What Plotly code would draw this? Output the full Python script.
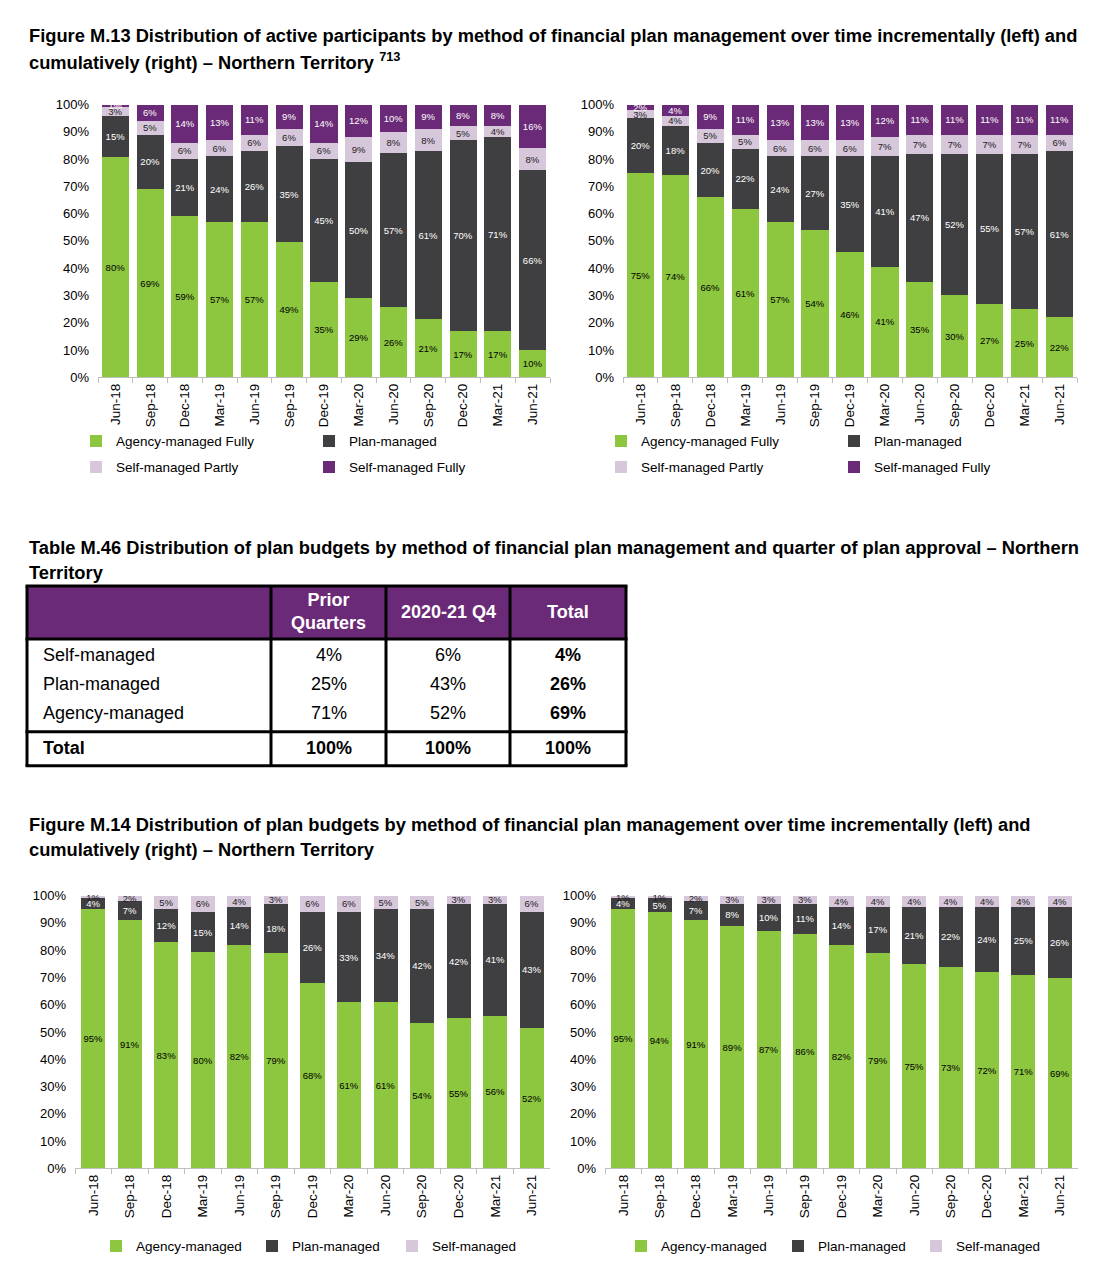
import plotly.graph_objects as go

# ---------------- data ----------------
months = ["Jun-18", "Sep-18", "Dec-18", "Mar-19", "Jun-19", "Sep-19", "Dec-19",
          "Mar-20", "Jun-20", "Sep-20", "Dec-20", "Mar-21", "Jun-21"]

# Figure M.13 left (incremental) - active participants
inc_agency_fully = [80, 69, 59, 57, 57, 49, 35, 29, 26, 21, 17, 17, 10]
inc_plan = [15, 20, 21, 24, 26, 35, 45, 50, 57, 61, 70, 71, 66]
inc_self_partly = [3, 5, 6, 6, 6, 6, 6, 9, 8, 8, 5, 4, 8]
inc_self_fully = [1, 6, 14, 13, 11, 9, 14, 12, 10, 9, 8, 8, 16]

# Figure M.13 right (cumulative)
cum_agency_fully = [75, 74, 66, 61, 57, 54, 46, 41, 35, 30, 27, 25, 22]
cum_plan = [20, 18, 20, 22, 24, 27, 35, 41, 47, 52, 55, 57, 61]
cum_self_partly = [3, 4, 5, 5, 6, 6, 6, 7, 7, 7, 7, 7, 6]
cum_self_fully = [2, 4, 9, 11, 13, 13, 13, 12, 11, 11, 11, 11, 11]

# Figure M.14 left (incremental) - plan budgets
bud_inc_agency = [95, 91, 83, 80, 82, 79, 68, 61, 61, 54, 55, 56, 52]
bud_inc_plan = [4, 7, 12, 15, 14, 18, 26, 33, 34, 42, 42, 41, 43]
bud_inc_self = [1, 2, 5, 6, 4, 3, 6, 6, 5, 5, 3, 3, 6]

# Figure M.14 right (cumulative)
bud_cum_agency = [95, 94, 91, 89, 87, 86, 82, 79, 75, 73, 72, 71, 69]
bud_cum_plan = [4, 5, 7, 8, 10, 11, 14, 17, 21, 22, 24, 25, 26]
bud_cum_self = [1, 1, 2, 3, 3, 3, 4, 4, 4, 4, 4, 4, 4]

# Table M.46
table_columns = ["Prior<br>Quarters", "2020-21 Q4", "Total"]
table_rows = ["Self-managed", "Plan-managed", "Agency-managed"]
table_prior = [4, 25, 71]
table_q4 = [6, 43, 52]
table_total = [4, 26, 69]
table_total_row = [100, 100, 100]

y_ticks = [0, 10, 20, 30, 40, 50, 60, 70, 80, 90, 100]

# ---------------- layout helpers ----------------
OX, OY = 8, 8            # page body margin
W, H = 1094 - 2 * OX, 1270 - 2 * OY
SY, CY = 0.9876, 7.4     # empirical vertical calibration
FONT = "Arial, Liberation Sans, sans-serif"
GREEN = "#8DC63F"
DARK = "#3F3F41"
LAV = "#D7C7DB"
PURPLE = "#6B2A77"
TABLE_PURPLE = "#6B2A77"


def X(p):
    return (p - OX) / W


def Y(p):
    fig_px = (p - CY) / SY - OY
    return 1 - fig_px / H


fig = go.Figure()


def add_bar(xa, ya, name, vals, color, textcolor, legend, width):
    fig.add_trace(go.Bar(
        x=months, y=vals, name=name,
        marker=dict(color=color, line=dict(width=0)),
        text=[f"{v}%" for v in vals],
        textposition="inside", insidetextanchor="middle", textangle=0,
        constraintext="none",
        textfont=dict(size=9.5, color=textcolor, family=FONT),
        xaxis=xa, yaxis=ya, legend=legend, width=width,
        hoverinfo="skip", cliponaxis=False,
    ))


BW_TOP = 0.78
BW_BOT = 0.66
add_bar("x", "y", "Agency-managed Fully", inc_agency_fully, GREEN, "#000000", "legend", BW_TOP)
add_bar("x", "y", "Plan-managed", inc_plan, DARK, "#FFFFFF", "legend2", BW_TOP)
add_bar("x", "y", "Self-managed Partly", inc_self_partly, LAV, "#222222", "legend3", BW_TOP)
add_bar("x", "y", "Self-managed Fully", inc_self_fully, PURPLE, "#FFFFFF", "legend4", BW_TOP)

add_bar("x2", "y2", "Agency-managed Fully", cum_agency_fully, GREEN, "#000000", "legend5", BW_TOP)
add_bar("x2", "y2", "Plan-managed", cum_plan, DARK, "#FFFFFF", "legend6", BW_TOP)
add_bar("x2", "y2", "Self-managed Partly", cum_self_partly, LAV, "#222222", "legend7", BW_TOP)
add_bar("x2", "y2", "Self-managed Fully", cum_self_fully, PURPLE, "#FFFFFF", "legend8", BW_TOP)

add_bar("x3", "y3", "Agency-managed", bud_inc_agency, GREEN, "#000000", "legend9", BW_BOT)
add_bar("x3", "y3", "Plan-managed", bud_inc_plan, DARK, "#FFFFFF", "legend10", BW_BOT)
add_bar("x3", "y3", "Self-managed", bud_inc_self, LAV, "#222222", "legend11", BW_BOT)

add_bar("x4", "y4", "Agency-managed", bud_cum_agency, GREEN, "#000000", "legend12", BW_BOT)
add_bar("x4", "y4", "Plan-managed", bud_cum_plan, DARK, "#FFFFFF", "legend13", BW_BOT)
add_bar("x4", "y4", "Self-managed", bud_cum_self, LAV, "#222222", "legend14", BW_BOT)


def xaxis_style(x0, x1, anchor):
    return dict(
        domain=[X(x0), X(x1)], anchor=anchor, type="category",
        showline=True, linecolor="#BFBFBF", linewidth=1,
        ticks="outside", tickson="boundaries", ticklen=5, tickcolor="#BFBFBF",
        tickangle=-90, tickfont=dict(size=13.5, color="#000000", family=FONT),
        showgrid=False, zeroline=False, fixedrange=True,
    )


def yaxis_style(ytop, ybot, anchor):
    return dict(
        domain=[Y(ybot), Y(ytop)], anchor=anchor, range=[0, 100.0001],
        tickvals=y_ticks, ticktext=[f"{v}%" for v in y_ticks],
        tickfont=dict(size=13, color="#000000", family=FONT),
        showgrid=False, zeroline=False, showline=False, ticks="",
        ticklabelstandoff=8, fixedrange=True,
    )


legend_common = dict(
    orientation="h", xanchor="left", yanchor="middle",
    font=dict(size=13.5, color="#000000", family=FONT),
    bgcolor="rgba(0,0,0,0)", borderwidth=0, itemclick=False,
    itemdoubleclick=False, traceorder="normal",
)


def legend_at(text_x, y):
    # legend text begins ~40px right of the legend box's left edge
    d = dict(legend_common)
    d.update(x=X(text_x - 40), y=Y(y))
    return d


annotations = []


def text(x, y, s, size=18, bold=False, color="#000000", xanchor="left"):
    if bold:
        s = f"<b>{s}</b>"
    annotations.append(dict(
        x=X(x), y=Y(y), xref="paper", yref="paper", text=s, showarrow=False,
        xanchor=xanchor, yanchor="middle",
        font=dict(size=size, color=color, family=FONT),
    ))


TS = 18.3
# titles
text(27, 36, "Figure M.13 Distribution of active participants by method of financial plan management over time incrementally (left) and", TS, True)
text(27, 61, "cumulatively (right) – Northern Territory <sup>713</sup>", TS, True)
text(27, 548, "Table M.46 Distribution of plan budgets by method of financial plan management and quarter of plan approval – Northern", TS, True)
text(27, 573, "Territory", TS, True)
text(27, 826, "Figure M.14 Distribution of plan budgets by method of financial plan management over time incrementally (left) and", TS, True)
text(27, 851, "cumulatively (right) – Northern Territory", TS, True)

# table
shapes = []
TL, TR = 27, 626
TT, TB = 587, 767
HB = 640
TOTAL_TOP = 733
col_edges = [27, 271, 386, 510, 626]
col_centers = [(col_edges[i] + col_edges[i + 1]) / 2 for i in range(1, 4)]
LW = 3

shapes.append(dict(type="rect", xref="paper", yref="paper",
                   x0=X(TL), x1=X(TR), y0=Y(HB), y1=Y(TT),
                   fillcolor=TABLE_PURPLE, line=dict(width=0), layer="below"))
for ye in [TT, HB, TOTAL_TOP, TB]:
    shapes.append(dict(type="line", xref="paper", yref="paper",
                       x0=X(TL - 1.5), x1=X(TR + 1.5), y0=Y(ye), y1=Y(ye),
                       line=dict(color="#000000", width=LW)))
for xe in col_edges:
    shapes.append(dict(type="line", xref="paper", yref="paper",
                       x0=X(xe), x1=X(xe), y0=Y(TT), y1=Y(TB),
                       line=dict(color="#000000", width=LW)))

for i, c in enumerate(table_columns):
    text(col_centers[i], 613, c, 18, True, "#FFFFFF", "center")

row_y = [656, 685, 714]
for r, name in enumerate(table_rows):
    text(41, row_y[r], name, 18)
    text(col_centers[0], row_y[r], f"{table_prior[r]}%", 18, False, "#000000", "center")
    text(col_centers[1], row_y[r], f"{table_q4[r]}%", 18, False, "#000000", "center")
    text(col_centers[2], row_y[r], f"{table_total[r]}%", 18, True, "#000000", "center")
text(41, 749, "Total", 18, True)
for i, v in enumerate(table_total_row):
    text(col_centers[i], 749, f"{v}%", 18, True, "#000000", "center")

legends = dict(
    legend=legend_at(116, 442), legend2=legend_at(349, 442),
    legend3=legend_at(116, 468), legend4=legend_at(349, 468),
    legend5=legend_at(641, 442), legend6=legend_at(874, 442),
    legend7=legend_at(641, 468), legend8=legend_at(874, 468),
    legend9=legend_at(136, 1248), legend10=legend_at(292, 1248),
    legend11=legend_at(432, 1248),
    legend12=legend_at(661, 1248), legend13=legend_at(818, 1248),
    legend14=legend_at(956, 1248),
)

fig.update_layout(
    width=W, height=H, margin=dict(l=0, r=0, t=0, b=0),
    paper_bgcolor="#FFFFFF", plot_bgcolor="#FFFFFF",
    barmode="stack", barnorm="percent",
    font=dict(family=FONT, color="#000000"),
    showlegend=True,
    xaxis=xaxis_style(98, 550, "y"),
    yaxis=yaxis_style(105, 378, "x"),
    xaxis2=xaxis_style(623, 1077, "y2"),
    yaxis2=yaxis_style(105, 378, "x2"),
    xaxis3=xaxis_style(75, 550, "y3"),
    yaxis3=yaxis_style(897, 1170, "x3"),
    xaxis4=xaxis_style(605, 1078, "y4"),
    yaxis4=yaxis_style(897, 1170, "x4"),
    annotations=annotations,
    shapes=shapes,
    **legends,
)

fig.write_html("out.html")
